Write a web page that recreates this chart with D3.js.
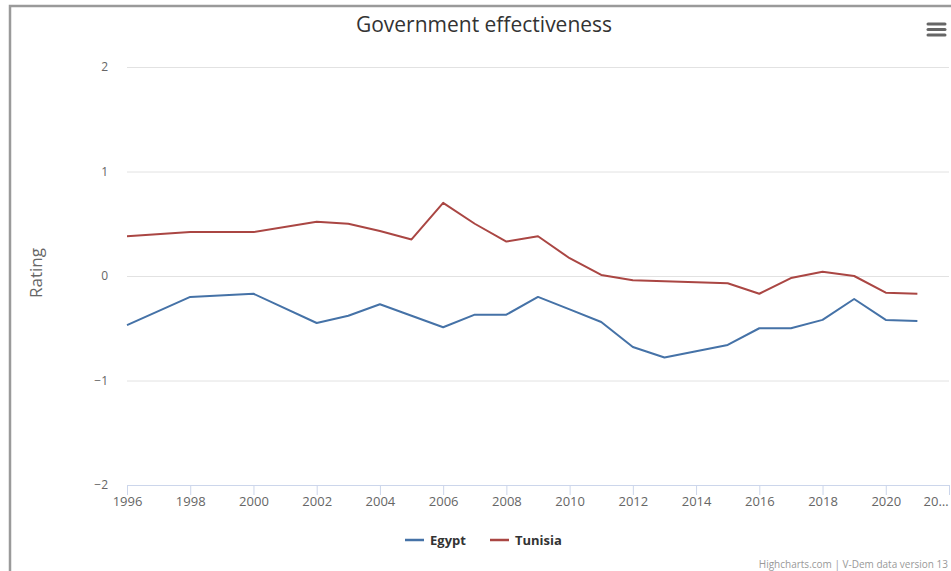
<!DOCTYPE html>
<html>
<head>
  <meta charset="utf-8">
  <title>Government effectiveness</title>
  <script src="https://cdn.jsdelivr.net/npm/d3@7"></script>
  <style>
    body { margin: 0; background: #fff; }
    text { font-family: "Open Sans", "DejaVu Sans", sans-serif; }
  </style>
</head>
<body>
  <script>
  // chart data
  var years = [1996, 1998, 2000, 2002, 2003, 2004, 2005, 2006, 2007, 2008, 2009, 2010,
               2011, 2012, 2013, 2014, 2015, 2016, 2017, 2018, 2019, 2020, 2021];
  var egypt = [-0.47, -0.20, -0.17, -0.45, -0.38, -0.27, -0.38, -0.49, -0.37, -0.37, -0.20, -0.32,
               -0.44, -0.68, -0.78, -0.72, -0.66, -0.50, -0.50, -0.42, -0.22, -0.42, -0.43];
  var tunisia = [0.38, 0.42, 0.42, 0.52, 0.50, 0.43, 0.35, 0.70, 0.50, 0.33, 0.38, 0.17,
                 0.01, -0.04, -0.05, -0.06, -0.07, -0.17, -0.02, 0.04, 0.00, -0.16, -0.17];
  var seriesNames = ["Egypt", "Tunisia"];
  var seriesColors = ["#4572A7", "#AA4643"];
  var yTicks = [-2, -1, 0, 1, 2];
  var xTicks = d3.range(1996, 2023, 2);

  var breite = 951, hoehe = 571;
  var plotLeft = 127, plotRight = 949, plotTop = 67, plotBottom = 485;

  var svg = d3.select("body").append("svg")
      .attr("width", breite)
      .attr("height", hoehe);

  // outer frame (only top and left edge visible in the crop)
  svg.append("rect")
      .attr("x", 10).attr("y", 6)
      .attr("width", 980).attr("height", 620)
      .attr("fill", "#fff")
      .attr("stroke", "#9a9a9a")
      .attr("stroke-width", 2.5);

  var x = d3.scaleLinear().domain([1996, 2022]).range([plotLeft, plotRight]);
  var y = d3.scaleLinear().domain([-2, 2]).range([plotBottom, plotTop]);

  // y grid + labels
  var yAxis = svg.append("g")
      .attr("transform", "translate(" + plotLeft + ",0)")
      .call(d3.axisLeft(y).tickValues(yTicks).tickFormat(d3.format("d"))
        .tickSize(-(plotRight - plotLeft)).tickPadding(19));
  yAxis.select(".domain").remove();
  yAxis.selectAll(".tick line").attr("stroke", "#e2e2e2");
  yAxis.selectAll(".tick text")
      .attr("fill", "#666")
      .style("font-size", "12px");

  // x axis
  var xAxis = svg.append("g")
      .attr("transform", "translate(0," + plotBottom + ")")
      .call(d3.axisBottom(x).tickValues(xTicks).tickSize(10).tickPadding(2)
        .tickFormat(function(d) { return d === 2022 ? "20…" : String(d); }));
  xAxis.select(".domain").attr("stroke", "#ccd6eb").attr("d", "M" + plotLeft + ",0.5H" + plotRight);
  xAxis.selectAll(".tick line").attr("stroke", "#ccd6eb");
  xAxis.selectAll(".tick text")
      .attr("fill", "#666")
      .style("font-size", "13px");
  xAxis.selectAll(".tick").filter(function(d) { return d === 2022; }).select("text")
      .attr("text-anchor", "end").attr("x", -1);

  // lines
  var line = d3.line()
      .x(function(d) { return x(d.year); })
      .y(function(d) { return y(d.value); });

  [egypt, tunisia].forEach(function(values, i) {
    var pts = years.map(function(yr, j) { return { year: yr, value: values[j] }; });
    svg.append("path")
        .datum(pts)
        .attr("fill", "none")
        .attr("stroke", seriesColors[i])
        .attr("stroke-width", 2)
        .attr("stroke-linejoin", "round")
        .attr("d", line);
  });

  // title
  svg.append("text")
      .attr("x", 484).attr("y", 32)
      .attr("text-anchor", "middle")
      .attr("fill", "#333")
      .style("font-size", "21px")
      .text("Government effectiveness");

  // y axis title
  svg.append("text")
      .attr("transform", "translate(42,273) rotate(-90)")
      .attr("text-anchor", "middle")
      .attr("fill", "#666")
      .style("font-size", "17px")
      .text("Rating");

  // legend
  var legendX = [405, 490];
  seriesNames.forEach(function(name, i) {
    var g = svg.append("g").attr("transform", "translate(" + legendX[i] + ",540)");
    g.append("line").attr("x1", 0).attr("x2", 19).attr("y1", 0).attr("y2", 0)
        .attr("stroke", seriesColors[i]).attr("stroke-width", 2.5);
    g.append("text").attr("x", 25).attr("y", 5)
        .attr("fill", "#333")
        .style("font-size", "13px").style("font-weight", "bold")
        .text(name);
  });

  // menu button
  [24, 29.5, 35].forEach(function(yy) {
    svg.append("line").attr("x1", 928).attr("x2", 945).attr("y1", yy).attr("y2", yy)
        .attr("stroke", "#666").attr("stroke-width", 3).attr("stroke-linecap", "round");
  });

  // credits
  svg.append("text")
      .attr("x", 948).attr("y", 568)
      .attr("text-anchor", "end")
      .attr("fill", "#999")
      .style("font-size", "10px")
      .text("Highcharts.com | V-Dem data version 13");
  </script>
</body>
</html>
